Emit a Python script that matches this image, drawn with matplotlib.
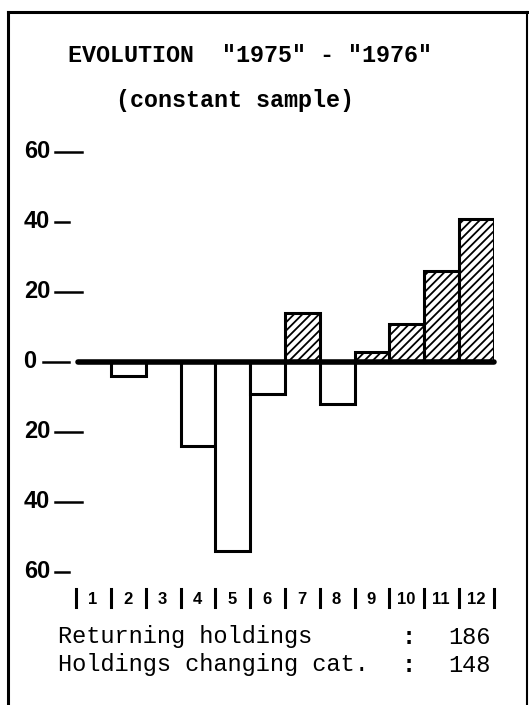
import numpy as np
import matplotlib
matplotlib.use("Agg")
import matplotlib.pyplot as plt
from matplotlib import transforms
from matplotlib.lines import Line2D

# data
categories = [1, 2, 3, 4, 5, 6, 7, 8, 9, 10, 11, 12]
values = [0, -4, 0, -24, -54, -9, 14, -12, 3, 11, 26, 41]
yticks = [60, 40, 20, 0, -20, -40, -60]
title_lines = ['EVOLUTION  "1975" - "1976"', '(constant sample)']
stat_labels = ['Returning holdings', 'Holdings changing cat.']
stat_values = [186, 148]

W, H = 529, 705
mono = 'Liberation Mono'
sans = 'Liberation Sans'
plt.rcParams['hatch.linewidth'] = 1.3


def fx(x):
    return x / W


def fy(y):
    return 1 - y / H


fig = plt.figure(figsize=(W / 100, H / 100), dpi=100)
fig.patch.set_facecolor('white')

# axes: x 0.5..12.5 -> px 76..494, y -60..60 -> px 572..152
ax = fig.add_axes([fx(76), fy(572), (494 - 76) / W, (572 - 152) / H])
ax.set_xlim(0.5, 12.5)
ax.set_ylim(-60, 60)
ax.axis('off')

bars = ax.bar(categories, values, width=1.0, facecolor='white',
              edgecolor='black', linewidth=2.2, zorder=2)
for b, v in zip(bars, values):
    if v > 0:
        b.set_hatch('////')
    if v == 0:
        b.set_visible(False)

# thick zero line
ax.plot([0.55, 12.5], [0, 0], color='black', lw=4, solid_capstyle='round',
        zorder=3, clip_on=False)

# y labels with dashes
ytrans = transforms.blended_transform_factory(fig.transFigure, ax.transData)
for t in yticks:
    if t == 0:
        ax.text(fx(23), t, '0', transform=ytrans, ha='left', va='center',
                fontsize=17, fontweight='bold', family=sans)
        x0, x1 = 43, 69
    else:
        ax.text(fx(24), t, str(abs(t)), transform=ytrans, ha='left', va='center',
                fontsize=17, fontweight='bold', family=sans)
        x0, x1 = 55, 82
        if t in (40, -60):
            x1 = 69
    fig.add_artist(Line2D([fx(x0), fx(x1)], [t, t], transform=ytrans,
                          color='black', lw=1.8))

# category labels under the chart
xtrans = transforms.blended_transform_factory(ax.transData, fig.transFigure)
edges = [c - 0.5 for c in categories] + [categories[-1] + 0.5]
for e in edges:
    fig.add_artist(Line2D([e, e], [fy(589), fy(607)], transform=xtrans,
                          color='black', lw=2.2))
for c in categories:
    ax.text(c - 0.02, fy(599), str(c), transform=xtrans, ha='center',
            va='center', fontsize=12, fontweight='bold', family=sans)

# titles
fig.text(fx(68), fy(56), title_lines[0], ha='left', va='center',
         fontsize=16.8, family=mono, fontweight='bold')
fig.text(fx(116), fy(101), title_lines[1], ha='left', va='center',
         fontsize=16.8, family=mono, fontweight='bold')

# summary lines
for i, (lab, val) in enumerate(zip(stat_labels, stat_values)):
    y = fy(637 + 28 * i)
    fig.text(fx(58), y, lab, ha='left', va='center', fontsize=17,
             family=mono)
    fig.text(fx(409), y, ':', ha='center', va='center', fontsize=17,
             family=mono, fontweight='bold')
    fig.text(fx(491), y, str(val), ha='right', va='center', fontsize=17,
             family=mono)

# frame of the scanned sheet
fig.add_artist(Line2D([fx(8), fx(8)], [fy(12), fy(705)], color='black', lw=2.2))
fig.add_artist(Line2D([fx(8), fx(527)], [fy(12), fy(12)], color='black', lw=2.2))
fig.add_artist(Line2D([fx(527), fx(527)], [fy(12), fy(705)], color='black', lw=1.5))

fig.savefig('out.png', dpi=100, facecolor='white')
